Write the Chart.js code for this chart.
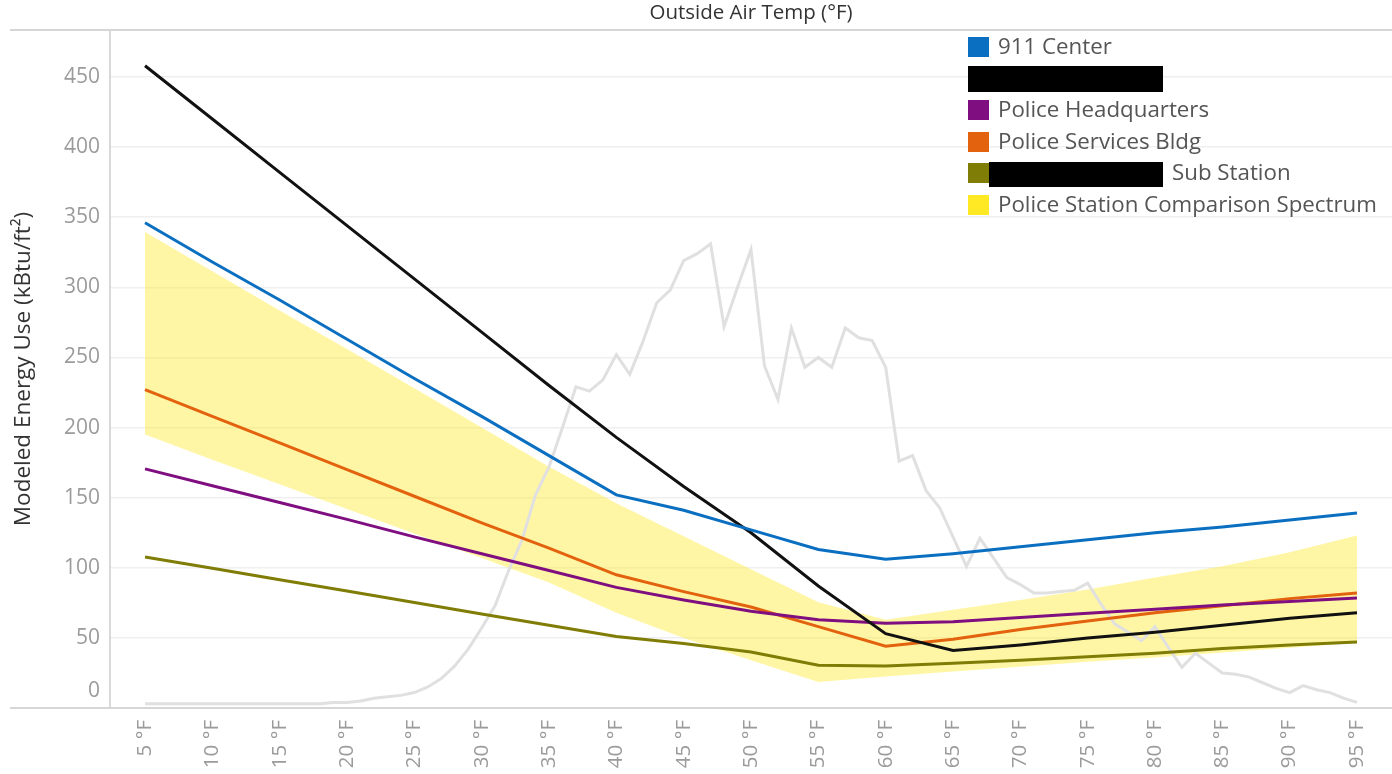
<!DOCTYPE html>
<html>
<head>
<meta charset="utf-8">
<script src="https://cdn.jsdelivr.net/npm/chart.js@4.4.1/dist/chart.umd.min.js"></script>
<style>
  html, body { margin: 0; padding: 0; background: #fff; }
  #wrap { position: relative; width: 1392px; height: 774px; }
  #legend { position: absolute; left: 968px; top: 37px; font-family: 'Open Sans', sans-serif; font-size: 22.3px; color: #555; }
  .row { position: relative; height: 31.6px; white-space: nowrap; }
  .sw { position: absolute; left: 0; top: 0; width: 21px; height: 20px; }
  .txt { position: absolute; left: 30px; top: -6px; line-height: 30px; }
  .redact { position: absolute; background: #000; }
</style>
</head>
<body>
<div id="wrap">
  <canvas id="energyChart"></canvas>
  <div id="legend"></div>
</div>
<script>
// outside air temperature categories (°F)
var temps = [5, 10, 15, 20, 25, 30, 35, 40, 45, 50, 55, 60, 65, 70, 75, 80, 85, 90, 95];
var tempLabels = ['5 °F', '10 °F', '15 °F', '20 °F', '25 °F', '30 °F', '35 °F', '40 °F', '45 °F', '50 °F',
                  '55 °F', '60 °F', '65 °F', '70 °F', '75 °F', '80 °F', '85 °F', '90 °F', '95 °F'];
var energyTicks = [0, 50, 100, 150, 200, 250, 300, 350, 400, 450];

// modeled energy use (kBtu/ft²)
var center911 = [346, 318, 291, 263, 235, 208, 180, 152, 141, 127, 113, 106, 110, 115, 120, 125, 129, 134, 139];
var hiddenBldg = [458, 420, 382, 344, 306, 268, 230, 193, 158, 125, 87, 53, 41, 45, 50, 54, 59, 64, 68];
var policeHQ = [170.5, 158.5, 146.5, 134.5, 122, 110, 98, 86, 77, 69, 63, 60.5, 61.5, 64.5, 67.5, 70.5, 73.5, 76, 78.5];
var servicesBldg = [227, 208, 189, 170, 151, 132, 114, 95, 83, 72, 58, 44, 49, 56, 62, 68, 73, 78, 82];
var subStation = [107.7, 99.6, 91.5, 83.4, 75.3, 67, 59, 51, 46, 40, 30.5, 30, 32, 34, 36.5, 39, 42.5, 45, 47];
var spectrumHigh = [339.5, 311.5, 283.5, 256, 228, 200, 172, 146, 122.5, 99, 75.5, 63, 70, 77, 84.5, 93, 101, 111, 123];
var spectrumLow = [195, 177, 159.5, 142, 124.5, 107, 89.5, 68, 50, 34, 18.5, 22.5, 26, 29.5, 33, 36, 39.5, 43, 46.5];

// hours-at-temperature profile (grey background line)
var profileTemps = [5, 6, 7, 8, 9, 10, 11, 12, 13, 14, 15, 16, 17, 18, 19, 20, 21, 22, 23, 24, 25, 26, 27, 28, 29, 30,
                    31, 32, 33, 34, 35, 36, 37, 38, 39, 40, 41, 42, 43, 44, 45, 46, 47, 48, 49, 50, 51, 52, 53, 54, 55,
                    56, 57, 58, 59, 60, 61, 62, 63, 64, 65, 66, 67, 68, 69, 70, 71, 72, 73, 74, 75, 76, 77, 78, 79, 80,
                    81, 82, 83, 84, 85, 86, 87, 88, 89, 90, 91, 92, 93, 94, 95];
var profileHours = [3, 3, 3, 3, 3, 3, 3, 3, 3, 3, 3, 3, 3, 3, 4, 4, 5, 7, 8, 9, 11, 15, 21, 30, 42, 57,
                    73, 98, 120, 152, 172, 200, 229, 226, 234, 252, 238, 262, 289, 298, 319, 324, 331, 272, 300, 327, 244, 220, 271, 243, 250,
                    243, 271, 264, 262, 243, 176, 180, 155, 143, 122, 101, 121, 107, 93, 88, 82, 82, 83, 84, 89, 74, 60, 54, 48, 58,
                    43, 29, 39, 32, 25, 24, 22, 18, 14, 11, 16, 13, 11, 7, 4];

var legendNames = ['911 Center', '', 'Police Headquarters', 'Police Services Bldg', 'Sub Station', 'Police Station Comparison Spectrum'];
var legendColors = ['#0b6fc1', '#000000', '#7f0f80', '#e3620e', '#7f7d05', '#ffe924'];

var FONT = "'Open Sans', sans-serif";

function pts(values, xs) {
  var out = [];
  for (var i = 0; i < values.length; i++) {
    out.push({ x: xs[i], y: values[i] });
  }
  return out;
}

function buildLegend() {
  var box = document.getElementById('legend');
  for (var i = 0; i < legendNames.length; i++) {
    var row = document.createElement('div');
    row.className = 'row';
    row.innerHTML = '<div class="sw" style="background:' + legendColors[i] + '"></div>' +
                    '<span class="txt">' + legendNames[i] + '</span>';
    box.appendChild(row);
  }
  // redacted names
  var rows = box.children;
  var r1 = document.createElement('div');
  r1.className = 'redact';
  r1.style.cssText = 'left:0;top:-3px;width:195px;height:26px;';
  rows[1].appendChild(r1);
  rows[4].querySelector('.txt').style.left = '204px';
  var r2 = document.createElement('div');
  r2.className = 'redact';
  r2.style.cssText = 'left:21px;top:-1px;width:174px;height:25px;';
  rows[4].appendChild(r2);
}

var framePlugin = {
  id: 'frame',
  afterDraw: function(chart) {
    var ctx = chart.ctx, area = chart.chartArea;
    ctx.save();
    ctx.strokeStyle = '#d6d6d6';
    ctx.lineWidth = 2;
    ctx.beginPath();
    ctx.moveTo(10, area.top); ctx.lineTo(chart.width, area.top);
    ctx.moveTo(10, area.bottom); ctx.lineTo(chart.width, area.bottom);
    ctx.stroke();
    ctx.restore();
  }
};

function lineSet(label, values, color) {
  return {
    label: label,
    data: pts(values, temps),
    borderColor: color,
    backgroundColor: color,
    borderWidth: 3,
    pointRadius: 0,
    fill: false,
    tension: 0
  };
}

function init() {
  buildLegend();

  var datasets = [
    lineSet('911 Center', center911, legendColors[0]),
    lineSet('(redacted)', hiddenBldg, '#111111'),
    lineSet('Police Headquarters', policeHQ, legendColors[2]),
    lineSet('Police Services Bldg', servicesBldg, legendColors[3]),
    lineSet('Sub Station', subStation, legendColors[4]),
    {
      label: 'Hours',
      data: pts(profileHours, profileTemps),
      yAxisID: 'hours',
      borderColor: '#e0e0e0',
      borderWidth: 3,
      pointRadius: 0,
      fill: false,
      tension: 0
    },
    {
      label: 'Police Station Comparison Spectrum',
      data: pts(spectrumHigh, temps),
      borderWidth: 0,
      pointRadius: 0,
      backgroundColor: 'rgba(255, 233, 40, 0.42)',
      fill: '+1',
      tension: 0
    },
    {
      label: 'Spectrum low',
      data: pts(spectrumLow, temps),
      borderWidth: 0,
      pointRadius: 0,
      fill: false,
      tension: 0
    }
  ];

  var ctx = document.getElementById('energyChart');
  new Chart(ctx, {
    type: 'line',
    data: { datasets: datasets },
    plugins: [framePlugin],
    options: {
      responsive: true,
      maintainAspectRatio: false,
      animation: false,
      layout: { padding: 0 },
      plugins: {
        legend: { display: false },
        tooltip: { enabled: false }
      },
      scales: {
        x: {
          type: 'linear',
          position: 'bottom',
          min: 2.4,
          max: 97.6,
          afterBuildTicks: function(s) { s.ticks = temps.map(function(v) { return { value: v }; }); },
          afterFit: function(s) { s.height = 66; },
          grid: { display: false },
          border: { display: false },
          ticks: {
            autoSkip: false,
            minRotation: 90,
            maxRotation: 90,
            padding: 4,
            color: '#9b9b9b',
            font: { family: FONT, size: 20.5 },
            callback: function(v) { return tempLabels[temps.indexOf(v)]; }
          }
        },
        xTop: {
          type: 'linear',
          position: 'top',
          min: 2.4,
          max: 97.6,
          afterFit: function(s) { s.height = 30; },
          grid: { display: false },
          border: { display: false },
          ticks: { display: false },
          title: {
            display: true,
            text: 'Outside Air Temp (°F)',
            color: '#333',
            font: { family: FONT, size: 20.5 },
            padding: { top: 1, bottom: 2 }
          }
        },
        y: {
          min: 0,
          max: 483.5,
          afterBuildTicks: function(s) { s.ticks = energyTicks.map(function(v) { return { value: v }; }); },
          afterFit: function(s) { s.width = 110; },
          grid: { color: '#efefef', lineWidth: 1.5, drawTicks: false },
          border: { display: true, color: '#d9d9d9', width: 2 },
          ticks: {
            padding: 10,
            color: '#9b9b9b',
            font: function(c) {
              return { family: FONT, size: 21, lineHeight: (c.tick && c.tick.value === 0) ? 1.62 : 1.2 };
            },
            callback: function(v) { return v === 0 ? ['0', ''] : String(v); }
          },
          title: {
            display: true,
            text: 'Modeled Energy Use (kBtu/ft²)',
            color: '#333',
            font: { family: FONT, size: 22.5 },
            padding: { top: 10, bottom: 0 }
          }
        },
        hours: {
          display: false,
          min: 0,
          max: 483.5
        }
      }
    }
  });
}

document.addEventListener('DOMContentLoaded', init);
</script>
</body>
</html>
